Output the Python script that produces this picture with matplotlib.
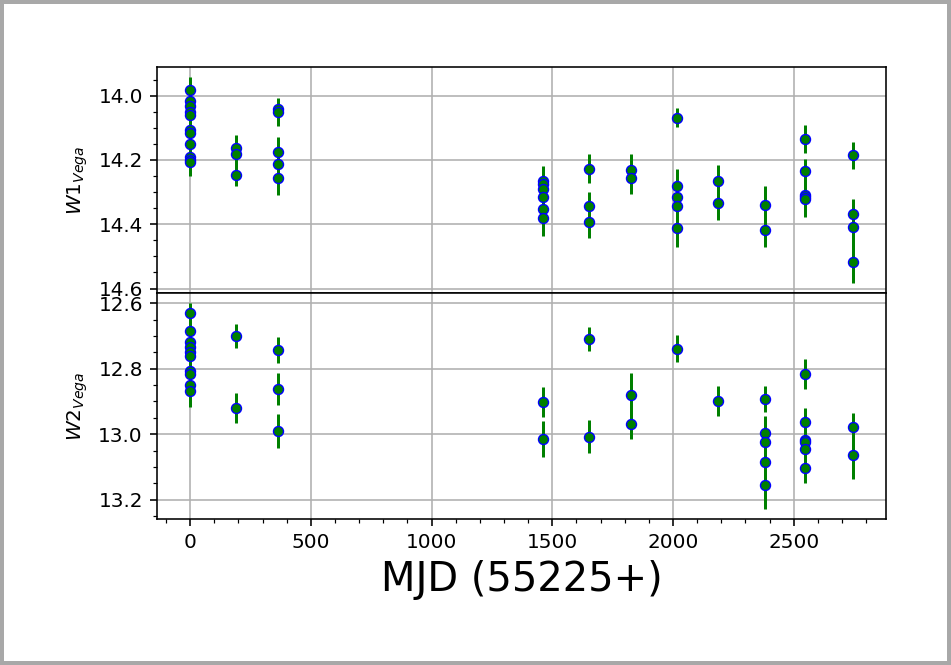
import matplotlib
matplotlib.use("Agg")
import matplotlib.pyplot as plt
from matplotlib.patches import Rectangle
import numpy as np

# W1 light curve (days since MJD 55225)
w1_mjd = [0] * 11 + [190] * 3 + [365] * 5 + [1461] * 6 + [1652] * 3 + [1825] * 2 \
    + [2017] * 5 + [2185] * 2 + [2381] * 2 + [2548] * 5 + [2746] * 4
w1_mag = [13.981, 14.016, 14.031, 14.050, 14.060, 14.107, 14.117, 14.149, 14.192, 14.200, 14.208,
          14.162, 14.183, 14.248,
          14.042, 14.052, 14.175, 14.212, 14.256,
          14.266, 14.276, 14.289, 14.315, 14.354, 14.381,
          14.227, 14.342, 14.393,
          14.232, 14.256,
          14.069, 14.280, 14.315, 14.342, 14.412,
          14.267, 14.334,
          14.339, 14.418,
          14.136, 14.236, 14.308, 14.315, 14.321,
          14.186, 14.368, 14.409, 14.516]
w1_err = [0.038, 0.035, 0.036, 0.037, 0.036, 0.038, 0.037, 0.039, 0.040, 0.041, 0.042,
          0.039, 0.037, 0.034,
          0.034, 0.042, 0.045, 0.048, 0.052,
          0.047, 0.048, 0.050, 0.052, 0.054, 0.056,
          0.045, 0.042, 0.051,
          0.050, 0.050,
          0.030, 0.053, 0.055, 0.056, 0.060,
          0.050, 0.054,
          0.059, 0.052,
          0.044, 0.038, 0.045, 0.050, 0.055,
          0.042, 0.047, 0.055, 0.066]

# W2 light curve
w2_mjd = [0] * 10 + [190] * 2 + [365] * 3 + [1461] * 2 + [1652] * 2 + [1825] * 2 \
    + [2017] + [2185] + [2381] * 5 + [2548] * 6 + [2746] * 2
w2_mag = [12.630, 12.685, 12.717, 12.733, 12.748, 12.760, 12.808, 12.815, 12.850, 12.867,
          12.700, 12.920,
          12.743, 12.861, 12.990,
          12.902, 13.015,
          12.709, 13.008,
          12.881, 12.970,
          12.739,
          12.899,
          12.892, 12.996, 13.023, 13.084, 13.154,
          12.817, 12.963, 13.018, 13.023, 13.045, 13.102,
          12.977, 13.063]
w2_err = [0.030, 0.035, 0.038, 0.040, 0.040, 0.042, 0.044, 0.045, 0.048, 0.050,
          0.037, 0.045,
          0.041, 0.049, 0.052,
          0.045, 0.054,
          0.037, 0.051,
          0.068, 0.044,
          0.042,
          0.046,
          0.040, 0.050, 0.055, 0.065, 0.074,
          0.046, 0.044, 0.046, 0.047, 0.048, 0.048,
          0.042, 0.073]

fig = plt.figure(figsize=(951 / 144, 665 / 144), dpi=144)
ax1 = fig.add_axes([0.165, 0.5594, 0.767, 0.3398])
ax2 = fig.add_axes([0.165, 0.2195, 0.767, 0.3399], sharex=ax1)

style = dict(fmt="o", color="green", ecolor="green", mfc="green", mec="blue",
             ms=5, mew=0.7, elinewidth=1.5, capsize=0)

ax1.errorbar(w1_mjd, w1_mag, yerr=w1_err, **style)
ax2.errorbar(w2_mjd, w2_mag, yerr=w2_err, **style)

for ax in (ax1, ax2):
  ax.invert_yaxis()
  ax.minorticks_on()
  ax.grid(True, which="major", color="#b0b0b0", lw=0.8)
  ax.set_axisbelow(True)

ax1.tick_params(axis="x", which="both", bottom=False, labelbottom=False)
ax1.set_ylabel(r"$W1_{Vega}$")
ax2.set_ylabel(r"$W2_{Vega}$")
ax2.set_xlabel("MJD (55225+)", fontsize=20)

# window-like grey frame around the figure
fig.add_artist(Rectangle((0, 0), 1, 1, transform=fig.transFigure, fill=False,
                         edgecolor="#a8a8a8", lw=4, clip_on=False))

fig.savefig("out.png", dpi=144)
